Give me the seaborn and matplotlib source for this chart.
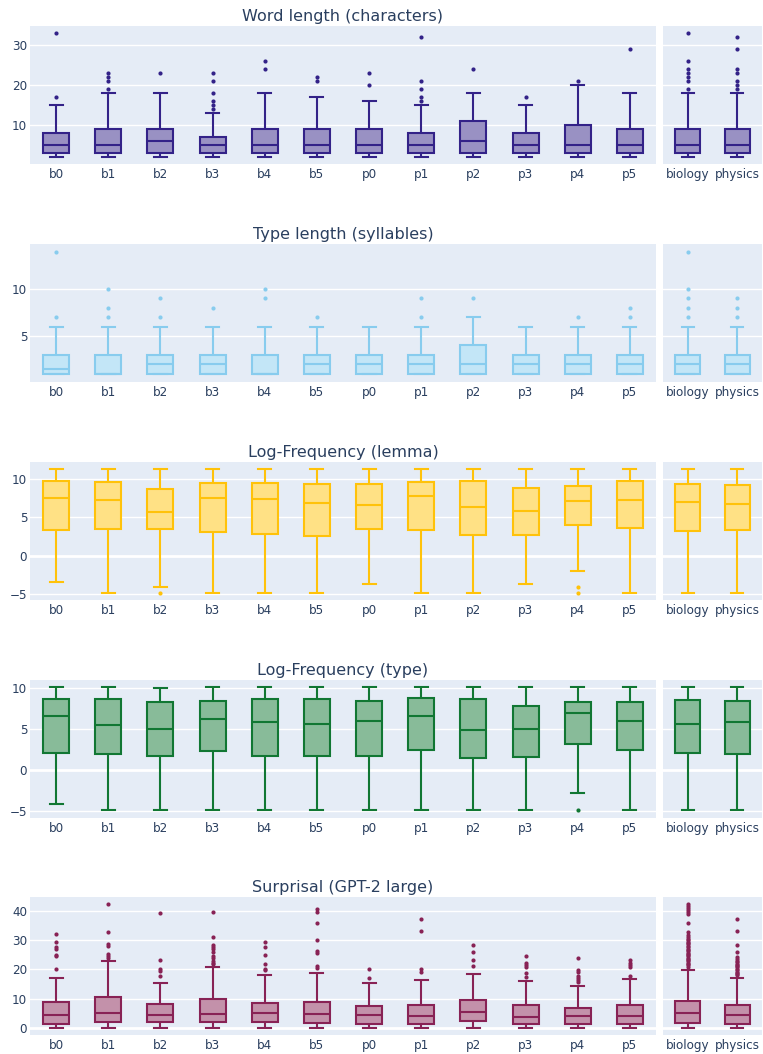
import matplotlib
matplotlib.use('Agg')
import matplotlib.pyplot as plt
from matplotlib.colors import to_rgb
import seaborn as sns
import pandas as pd

groups_main = ['b0', 'b1', 'b2', 'b3', 'b4', 'b5', 'p0', 'p1', 'p2', 'p3', 'p4', 'p5']
groups_side = ['biology', 'physics']

# word length (characters)
wl_lo = [2, 2, 2, 2, 2, 2, 2, 2, 2, 2, 2, 2, 2, 2]
wl_q1 = [3, 3, 3, 3, 3, 3, 3, 3, 3, 3, 3, 3, 3, 3]
wl_med = [5, 5, 6, 5, 5, 5, 5, 5, 6, 5, 5, 5, 5, 5]
wl_q3 = [8, 9, 9, 7, 9, 9, 9, 8, 11, 8, 10, 9, 9, 9]
wl_hi = [15, 18, 18, 13, 18, 17, 16, 15, 18, 15, 20, 18, 18, 18]
wl_out = [[17, 33], [19, 21, 22, 23], [23], [14, 15, 16, 18, 21, 23], [24, 26], [21, 22],
          [20, 23], [16, 17, 19, 21, 32], [24], [17], [21], [29],
          [19, 21, 22, 23, 24, 26, 33], [19, 20, 21, 23, 24, 29, 32]]

# type length (syllables)
tl_lo = [1, 1, 1, 1, 1, 1, 1, 1, 1, 1, 1, 1, 1, 1]
tl_q1 = [1, 1, 1, 1, 1, 1, 1, 1, 1, 1, 1, 1, 1, 1]
tl_med = [1.5, 1, 2, 2, 1, 2, 2, 2, 2, 2, 2, 2, 2, 2]
tl_q3 = [3, 3, 3, 3, 3, 3, 3, 3, 4, 3, 3, 3, 3, 3]
tl_hi = [6, 6, 6, 6, 6, 6, 6, 6, 7, 6, 6, 6, 6, 6]
tl_out = [[7, 14], [7, 8, 10], [7, 9], [8], [9, 10], [7], [], [7, 9], [9], [], [7], [7, 8],
          [7, 8, 9, 10, 14], [7, 8, 9]]

# log-frequency (lemma)
ll_lo = [-3.43, -4.78, -4.09, -4.78, -4.78, -4.78, -3.69, -4.78, -4.78, -3.65, -1.91, -4.78, -4.78, -4.78]
ll_q1 = [3.3, 3.52, 3.43, 3.04, 2.85, 2.55, 3.48, 3.35, 2.7, 2.65, 4.0, 3.57, 3.22, 3.35]
ll_med = [7.52, 7.26, 5.74, 7.52, 7.4, 6.87, 6.6, 7.8, 6.35, 5.87, 7.09, 7.3, 7.04, 6.7]
ll_q3 = [9.74, 9.6, 8.65, 9.48, 9.5, 9.3, 9.3, 9.6, 9.7, 8.87, 9.09, 9.7, 9.39, 9.26]
ll_hi = [11.3, 11.3, 11.3, 11.3, 11.3, 11.3, 11.3, 11.3, 11.3, 11.3, 11.3, 11.3, 11.3, 11.3]
ll_out = [[], [], [-4.78], [], [], [], [], [], [], [], [-4.04, -4.78], [], [], []]

# log-frequency (type)
lt_lo = [-4.15, -4.84, -4.84, -4.84, -4.84, -4.84, -4.84, -4.84, -4.84, -4.84, -2.76, -4.84, -4.84, -4.84]
lt_q1 = [2.11, 1.99, 1.75, 2.4, 1.8, 1.8, 1.8, 2.5, 1.5, 1.67, 3.17, 2.44, 2.07, 2.03]
lt_med = [6.59, 5.53, 5.0, 6.26, 5.93, 5.6, 6.0, 6.6, 4.9, 5.0, 7.0, 6.0, 5.69, 5.85]
lt_q3 = [8.74, 8.7, 8.29, 8.5, 8.75, 8.7, 8.5, 8.8, 8.75, 7.85, 8.37, 8.37, 8.62, 8.41]
lt_hi = [10.2, 10.2, 10.1, 10.2, 10.2, 10.2, 10.2, 10.2, 10.2, 10.2, 10.2, 10.2, 10.2, 10.2]
lt_out = [[], [], [], [], [], [], [], [], [], [], [-4.84], [], [], []]

# surprisal (GPT-2 large)
su_lo = [0, 0, 0, 0, 0, 0, 0, 0, 0, 0, 0, 0, 0, 0]
su_q1 = [1.26, 1.84, 1.84, 1.95, 1.84, 1.6, 1.4, 1.15, 2.18, 1.38, 1.26, 1.15, 1.6, 1.15]
su_med = [4.48, 5.17, 4.48, 4.7, 5.06, 4.8, 4.48, 4.0, 5.5, 3.8, 4.1, 4.0, 4.9, 4.25]
su_q3 = [8.7, 10.5, 8.05, 9.9, 8.6, 8.85, 7.5, 7.8, 9.5, 7.7, 6.9, 7.7, 9.3, 7.8]
su_hi = [17.2, 22.9, 15.3, 20.7, 18.2, 18.7, 15.4, 16.4, 18.6, 16.0, 14.5, 16.9, 19.9, 17.1]
su_out = [[20.0, 24.6, 24.9, 27.1, 27.6, 29.4, 32.1],
          [23.9, 24.6, 25.3, 28.0, 28.9, 32.8, 42.4],
          [17.6, 19.5, 20.2, 23.3, 39.3],
          [22.0, 22.3, 22.9, 24.0, 24.7, 26.0, 26.9, 27.8, 28.4, 31.0, 39.7],
          [19.8, 20.2, 21.8, 24.9, 27.7, 29.4],
          [20.5, 21.1, 25.5, 26.4, 30.2, 36.0, 39.9, 40.8],
          [17.1, 20.0],
          [19.3, 20.1, 33.2, 37.2],
          [21.3, 23.2, 25.9, 28.5],
          [17.3, 18.9, 20.9, 21.6, 22.1, 24.7],
          [15.7, 16.3, 17.1, 17.9, 19.0, 19.8, 23.9],
          [17.7, 20.7, 21.4, 22.3, 23.3],
          [21.0, 21.4, 21.9, 22.3, 22.8, 23.1, 23.6, 24.0, 24.5, 24.9, 25.4, 25.8, 26.3, 26.7,
           27.2, 27.6, 28.1, 28.6, 29.0, 29.5, 30.1, 30.6, 31.3, 32.0, 32.9, 36.0, 39.2, 39.8,
           40.3, 41.0, 41.7, 42.5],
          [18.0, 18.4, 18.9, 19.3, 19.8, 20.2, 20.7, 21.1, 21.6, 22.0, 22.5, 23.0, 23.6, 24.2,
           25.9, 28.5, 33.2, 37.2]]

titles = ['Word length (characters)', 'Type length (syllables)', 'Log-Frequency (lemma)',
          'Log-Frequency (type)', 'Surprisal (GPT-2 large)']
colors = ['#332288', '#88CCEE', '#FFC20A', '#117733', '#882255']
ylims = [(0.3, 34.8), (0.14, 14.8), (-5.74, 12.17), (-5.77, 11.02), (-2.5, 44.8)]
yticks = [[10, 20, 30], [5, 10], [-5, 0, 5, 10], [-5, 0, 5, 10], [0, 10, 20, 30, 40]]
stats = [(wl_lo, wl_q1, wl_med, wl_q3, wl_hi, wl_out),
         (tl_lo, tl_q1, tl_med, tl_q3, tl_hi, tl_out),
         (ll_lo, ll_q1, ll_med, ll_q3, ll_hi, ll_out),
         (lt_lo, lt_q1, lt_med, lt_q3, lt_hi, lt_out),
         (su_lo, su_q1, su_med, su_q3, su_hi, su_out)]


def make_df(lo, q1, med, q3, hi, out, groups, offset):
    # rebuild a sample whose quartiles/whiskers match the read-off summary
    rows = []
    for i, g in enumerate(groups):
        k = i + offset
        vals = [lo[k]] + [q1[k]] * 100 + [med[k]] * 100 + [q3[k]] * 100 + [hi[k]] + out[k]
        rows += [(g, v) for v in vals]
    return pd.DataFrame(rows, columns=['group', 'value'])


def lighten(c, f=0.5):
    r, g, b = to_rgb(c)
    return (r + (1 - r) * f, g + (1 - g) * f, b + (1 - b) * f)


def style_ax(ax, ylim, ticks, show_y):
    ax.set_facecolor('#E5ECF6')
    for s in ax.spines.values():
        s.set_visible(False)
    ax.set_ylim(*ylim)
    ax.set_yticks(ticks)
    ax.grid(axis='y', color='white', linewidth=1)
    ax.grid(axis='x', visible=False)
    ax.set_axisbelow(True)
    if ylim[0] < 0 < ylim[1]:
        ax.axhline(0, color='white', linewidth=2, zorder=0.5)
    ax.tick_params(length=0, labelsize=8.64, colors='#2a3f5f')
    ax.tick_params(axis='x', pad=3)
    ax.tick_params(axis='y', pad=2, labelleft=show_y)
    ax.set_xlabel('')
    ax.set_ylabel('')


W, H = 763, 1054
fig = plt.figure(figsize=(W / 100, H / 100), dpi=100)
tops = [26, 244, 462.3, 680, 897.3]
ph = 137.7

for r in range(5):
    c = colors[r]
    top = tops[r]
    ax1 = fig.add_axes([30 / W, 1 - (top + ph) / H, 626 / W, ph / H])
    ax2 = fig.add_axes([663 / W, 1 - (top + ph) / H, 99 / W, ph / H])
    for ax, groups, off, show_y in [(ax1, groups_main, 0, True), (ax2, groups_side, 12, False)]:
        df = make_df(*stats[r], groups, off)
        sns.boxplot(data=df, x='group', y='value', order=groups, color=c, linecolor=c,
                    saturation=1, width=0.5, linewidth=1.5, fliersize=3,
                    flierprops=dict(marker='o', markerfacecolor=c, markeredgecolor='none'),
                    ax=ax)
        for p in ax.patches:
            p.set_facecolor(lighten(c))
        ax.set_xlim(-0.5, len(groups) - 0.5)
        style_ax(ax, ylims[r], yticks[r], show_y)
    fig.text(343 / W, 1 - (top - 9.5) / H, titles[r], ha='center', va='center',
             fontsize=11.52, color='#2a3f5f')

fig.savefig('out.png', dpi=100)
